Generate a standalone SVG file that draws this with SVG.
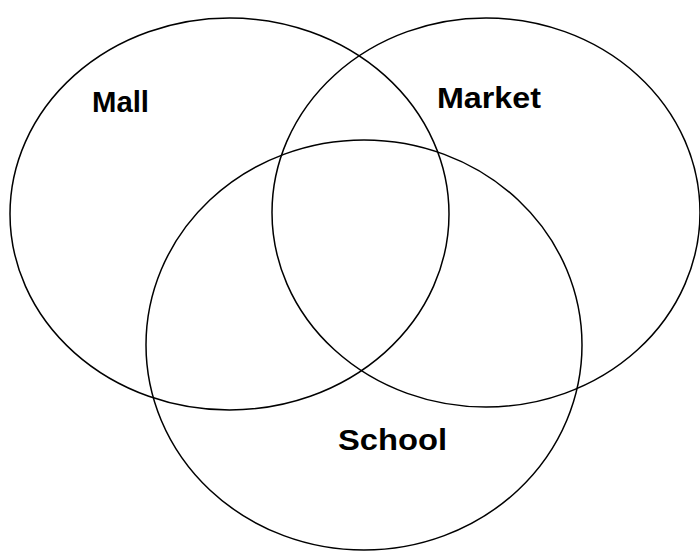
<svg xmlns="http://www.w3.org/2000/svg" width="700" height="555" viewBox="0 0 700 555">
<style>
.set{fill:none;stroke:#000;stroke-width:1.5}
.lbl{font-family:"Liberation Sans",Arial,sans-serif;font-weight:bold;font-size:30px;fill:#000}
</style>
<rect width="700" height="555" fill="#fff"/>
<g id="mall"><ellipse class="set" cx="229.5" cy="214" rx="219.5" ry="196"/><text class="lbl" x="92" y="112" textLength="57" lengthAdjust="spacingAndGlyphs">Mall</text></g>
<g id="market"><ellipse class="set" cx="486" cy="212.5" rx="214" ry="194.5"/><text class="lbl" x="437" y="108" textLength="104" lengthAdjust="spacingAndGlyphs">Market</text></g>
<g id="school"><ellipse class="set" cx="364" cy="345" rx="218" ry="205"/><text class="lbl" x="338" y="450" textLength="109" lengthAdjust="spacingAndGlyphs">School</text></g>
<g id="connectors"/>
</svg>
